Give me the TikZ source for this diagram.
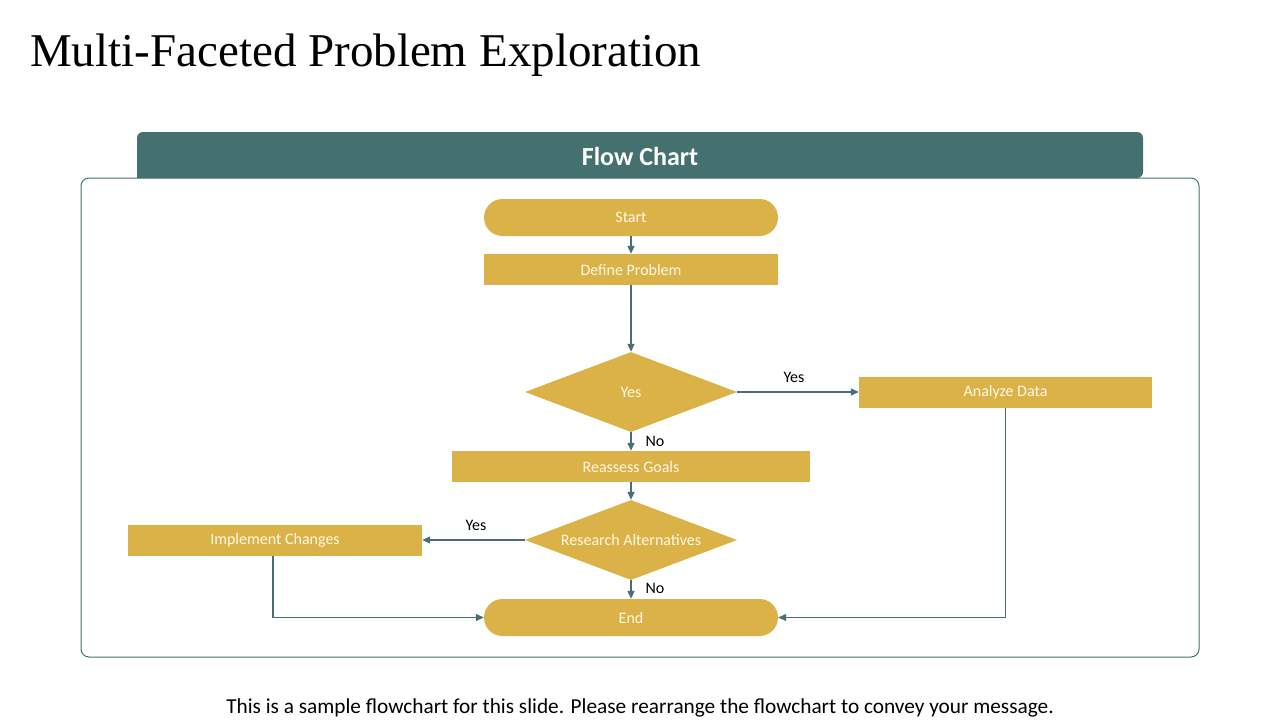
\documentclass[tikz,border=0pt]{standalone}
\usepackage{fontspec}
\setmainfont{Carlito}
\newfontfamily\titlefont{Liberation Serif}
\usetikzlibrary{shapes.geometric,arrows.meta}
\definecolor{teal}{HTML}{44706F}
\definecolor{gold}{HTML}{DBB247}
\definecolor{linec}{HTML}{4A6E78}
\definecolor{txt}{HTML}{FFF8E6}
\begin{document}
\begin{tikzpicture}[x=1pt,y=-1pt,
  base/.style={fill=gold,draw=none,text=txt,font=\fontsize{16}{18}\selectfont,inner sep=0pt},
  pill/.style={base,rounded corners=18.5pt,minimum width=294pt,minimum height=37pt},
  stepbox/.style={base,rectangle,minimum height=31pt},
  decision/.style={base,diamond,aspect=2.65,minimum width=212pt,minimum height=80pt},
  conn/.style={draw=linec,line width=1.3pt,-{Triangle[length=8pt,width=7pt]}},
  lab/.style={font=\fontsize{16}{18}\selectfont,text=black,inner sep=0pt}]
\useasboundingbox (0,0) rectangle (1280,720);
\fill[white] (0,0) rectangle (1280,720);
% title
\node[anchor=west,inner sep=0pt,font=\titlefont\fontsize{47}{52}\selectfont] (title) at (30,55) {Multi-Faceted Problem Exploration};
% header tab
\fill[teal,rounded corners=6pt] (137,178) -- (137,132) -- (1143,132) -- (1143,178) [sharp corners] -- cycle;
\node[text=white,font=\bfseries\fontsize{26}{30}\selectfont,inner sep=0pt] (hdr) at (640,156) {Flow Chart};
% outer frame
\draw[teal,line width=1pt,rounded corners=8pt] (81,178) rectangle (1199,657);
% nodes
\node[pill] (start) at (631,217.5) {Start};
\node[stepbox,minimum width=294pt] (define) at (631,269.5) {Define Problem};
\node[decision] (d1) at (631,392) {Yes};
\node[stepbox,minimum width=293pt] (analyze) at (1005.5,392) {Analyze Data};
\node[stepbox,minimum width=358pt] (reassess) at (631,466.5) {Reassess Goals};
\node[decision] (d2) at (631,540) {Research Alternatives};
\node[stepbox,minimum width=294pt] (impl) at (275,540) {Implement Changes};
\node[pill] (end) at (631,617.5) {End};
% connectors
\draw[conn] (start) -- (define);
\draw[conn] (define) -- (d1);
\draw[conn] (d1.east) -- (analyze.west);
\draw[conn] (d1.south) -- (reassess.north);
\draw[conn] (reassess) -- (d2);
\draw[conn] (d2.west) -- (impl.east);
\draw[conn] (d2.south) -- (end.north);
\draw[conn] ([xshift=-2pt]impl.south) -- ([xshift=-2pt]impl.south |- end.west) -- (end.west);
\draw[conn] (analyze.south) -- (analyze.south |- end.east) -- (end.east);
% labels
\node[lab] (l1) at (794,377) {Yes};
\node[lab] (l2) at (655,441) {No};
\node[lab] (l3) at (476,525) {Yes};
\node[lab] (l4) at (655,588) {No};
% caption
\node[font=\fontsize{21.3}{25}\selectfont,inner sep=0pt] (cap) at (640,708) {This is a sample flowchart for this slide. Please rearrange the flowchart to convey your message.};
\end{tikzpicture}
\end{document}
